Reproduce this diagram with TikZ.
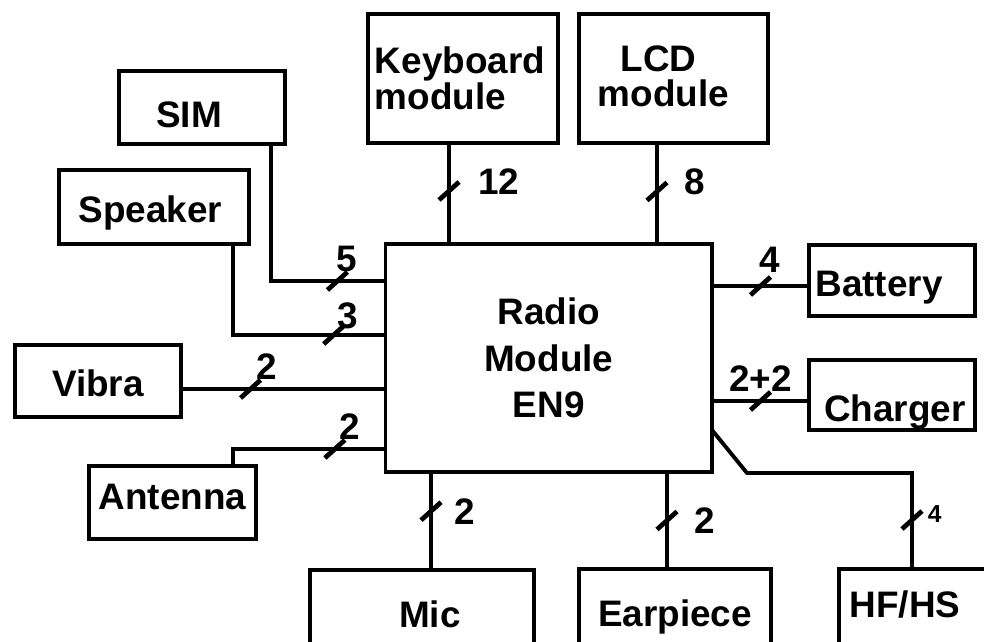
\documentclass[tikz,border=0pt]{standalone}
\usepackage{fontspec}
\setmainfont{Liberation Sans}
\usetikzlibrary{
    positioning,
    calc
}
% move a label inside its box without changing the box
\newcommand{\txtshift}[3]{\raisebox{#2}[\height][\depth]{\hspace*{#1}#3\hspace*{-#1}}}
\tikzset{
    unit/.style={
        rectangle, draw=black, line width=2.2pt, outer sep=0pt,
        fill=white, text=black, align=center, inner sep=2pt,
        font=\fontsize{21}{24}\selectfont\bfseries
    },
    bus/.style={line width=2.2pt, black},
    slash/.style={
        inner sep=0pt, outer sep=0pt, minimum width=0.4cm, minimum height=0.36cm,
        append after command={(\tikzlastnode.south west) edge[line width=2.7pt] (\tikzlastnode.north east)}
    },
    wires/.style={font=\fontsize{21}{24}\selectfont\bfseries, inner sep=0pt, outer sep=0pt},
    wiresmall/.style={font=\fontsize{14}{16}\selectfont\bfseries, inner sep=0pt, outer sep=0pt},
}

\begin{document}
\begin{tikzpicture}[x=0.02cm, y=-0.02cm]

    \clip (0,0) rectangle (984,642);

    % ── radio module ─────────────────────────────────
    \node [unit, minimum width=6.53cm, minimum height=4.56cm,
           font=\fontsize{21}{26.6}\selectfont\bfseries]
        (radio) at (548.75,358) {Radio\\Module\\EN9};

    % ── peripheral units ─────────────────────────────
    \node [unit, minimum width=3.32cm, minimum height=1.46cm] (sim) at (202,107.5) {\txtshift{-0.26cm}{-0.15cm}{SIM}};
    \node [unit, minimum width=3.8cm, minimum height=1.48cm] (spk) at (154,207) {\txtshift{-0.07cm}{-0.11cm}{Speaker}};
    \node [unit, minimum width=3.32cm, minimum height=1.44cm] (vibra) at (98,381) {\txtshift{0cm}{-0.05cm}{Vibra}};
    \node [unit, minimum width=3.34cm, minimum height=1.46cm] (ant) at (172.5,502.5) {\txtshift{0cm}{0.12cm}{Antenna}};

    \node [unit, minimum width=3.8cm, minimum height=2.58cm, align=left,
           font=\fontsize{21}{18.5}\selectfont\bfseries]
        (kbd) at (463,78.5) {\txtshift{-0.06cm}{0cm}{Keyboard}\\\txtshift{-0.06cm}{0cm}{module}};
    \node [unit, minimum width=3.78cm, minimum height=2.58cm,
           font=\fontsize{21}{20}\selectfont\bfseries]
        (lcd) at (673.5,78.5) {\txtshift{-0.3cm}{0.04cm}{LCD}\\\txtshift{-0.2cm}{0.04cm}{module}};

    \node [unit, minimum width=3.32cm, minimum height=1.42cm] (bat) at (892,280.5) {\txtshift{-0.26cm}{-0.14cm}{Battery}};
    \node [unit, minimum width=3.32cm, minimum height=1.40cm] (chg) at (892,395) {\txtshift{0.06cm}{-0.34cm}{Charger}};

    \node [unit, anchor=north west, minimum width=4.48cm, minimum height=1.6cm] (mic) at (310,570) {\txtshift{0.16cm}{-0.09cm}{Mic}};
    \node [unit, anchor=north west, minimum width=3.84cm, minimum height=1.6cm] (ear) at (579,569) {\txtshift{0cm}{-0.15cm}{Earpiece}};
    \node [unit, anchor=north west, minimum width=3.0cm, minimum height=1.6cm] (hf) at (839,569) {\txtshift{-0.18cm}{0.09cm}{HF/HS}};

    % ── ports on the module ──────────────────────────
    \coordinate (p-sim) at ([yshift=-0.74cm]radio.north west);
    \coordinate (p-spk) at ([yshift=-1.82cm]radio.north west);
    \coordinate (p-vib) at ([yshift=-2.9cm]radio.north west);
    \coordinate (p-ant) at ([yshift=-4.1cm]radio.north west);
    \coordinate (p-kbd) at ([xshift=1.27cm]radio.north west);
    \coordinate (p-lcd) at ([xshift=5.43cm]radio.north west);
    \coordinate (p-bat) at ([yshift=-0.84cm]radio.north east);
    \coordinate (p-chg) at ([yshift=-3.14cm]radio.north east);
    \coordinate (p-hf)  at ([yshift=-3.72cm]radio.north east);
    \coordinate (p-mic) at ([xshift=0.91cm]radio.south west);
    \coordinate (p-ear) at ([xshift=5.63cm]radio.south west);
    \coordinate (c-hf)  at ([xshift=0.7cm, yshift=-0.86cm]p-hf);

    % ── buses, left side ─────────────────────────────
    \draw [bus] ([xshift=-0.28cm]sim.south east) |- (p-sim)
        node[slash, pos=0.79, label={[wires, xshift=0.18cm]above:5}] (s-sim) {};
    \draw [bus] ([xshift=-0.32cm]spk.south east) |- (p-spk)
        node[slash, pos=0.83, label={[wires, xshift=0.28cm, yshift=-0.06cm]above:3}] (s-spk) {};
    \draw [bus] (vibra.east |- p-vib) -- (p-vib)
        node[slash, pos=0.34, label={[wires, xshift=0.32cm]above:2}] (s-vib) {};
    \draw [bus] (p-ant) -| ([xshift=-0.46cm]ant.north east)
        node[slash, pos=0.166, label={[wires, xshift=0.3cm]above:2}] (s-ant) {};

    % ── buses, top ───────────────────────────────────
    \draw [bus] (kbd.south -| p-kbd) -- (p-kbd)
        node[slash, pos=0.475, label={[wires, xshift=0.38cm, yshift=0.18cm]right:12}] (s-kbd) {};
    \draw [bus] (lcd.south -| p-lcd) -- (p-lcd)
        node[slash, pos=0.48, label={[wires, xshift=0.36cm, yshift=0.2cm]right:8}] (s-lcd) {};

    % ── buses, right side ────────────────────────────
    \draw [bus] (p-bat) -- (p-bat -| bat.west)
        node[slash, pos=0.5, label={[wires, xshift=0.18cm, yshift=0.1cm]above:4}] (s-bat) {};
    \draw [bus] (p-chg) -- (p-chg -| chg.west)
        node[slash, pos=0.5, label={[wires]above:2+2}] (s-chg) {};
    \draw [bus] (p-hf) -- (c-hf) -| ([xshift=1.46cm]hf.north west)
        node[slash, pos=0.745, label={[wiresmall, xshift=0.12cm, yshift=0.12cm]right:4}] (s-hf) {};

    % ── buses, bottom ────────────────────────────────
    \draw [bus] (p-mic) -- (p-mic |- mic.north)
        node[slash, pos=0.4, label={[wires, xshift=0.26cm]right:2}] (s-mic) {};
    \draw [bus] (p-ear) -- (p-ear |- ear.north)
        node[slash, pos=0.5, label={[wires, xshift=0.36cm]right:2}] (s-ear) {};

\end{tikzpicture}
\end{document}
